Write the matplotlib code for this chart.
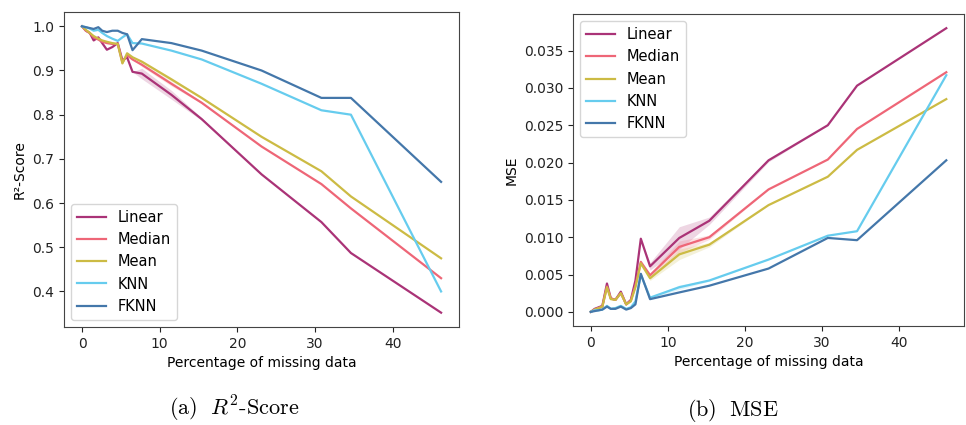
import numpy as np
import matplotlib
matplotlib.use("Agg")
import matplotlib.pyplot as plt

plt.rcParams['mathtext.fontset'] = 'cm'

# --- data ---
pct = [0, 0.5, 1.0, 1.5, 2.1, 2.6, 3.2, 3.9, 4.6, 5.2, 5.8, 6.5, 7.7,
       11.5, 15.4, 23.1, 30.8, 34.6, 46.2]

methods = ['Linear', 'Median', 'Mean', 'KNN', 'FKNN']
colors = ['#AA3377', '#EE6677', '#CCBB44', '#66CCEE', '#4477AA']

r2_linear = [1.0, 0.99, 0.985, 0.968, 0.975, 0.962, 0.947, 0.953, 0.962, 0.923,
             0.93, 0.897, 0.893, 0.845, 0.79, 0.665, 0.557, 0.487, 0.352]
r2_median = [1.0, 0.99, 0.985, 0.975, 0.97, 0.965, 0.962, 0.96, 0.96, 0.918,
             0.935, 0.925, 0.913, 0.87, 0.827, 0.728, 0.643, 0.588, 0.43]
r2_mean = [1.0, 0.992, 0.985, 0.978, 0.972, 0.968, 0.965, 0.962, 0.96, 0.916,
           0.939, 0.93, 0.92, 0.88, 0.838, 0.75, 0.672, 0.615, 0.475]
r2_knn = [1.0, 0.998, 0.995, 0.99, 0.992, 0.985, 0.978, 0.972, 0.967, 0.975,
          0.982, 0.962, 0.961, 0.945, 0.925, 0.87, 0.81, 0.80, 0.40]
r2_fknn = [1.0, 0.998, 0.996, 0.994, 0.998, 0.99, 0.987, 0.99, 0.99, 0.985,
           0.982, 0.946, 0.971, 0.962, 0.945, 0.90, 0.838, 0.838, 0.648]

mse_linear = [0, 0.0004, 0.0006, 0.0008, 0.0038, 0.0018, 0.0016, 0.0027, 0.0010, 0.0016,
              0.0042, 0.0098, 0.0061, 0.0099, 0.0122, 0.0203, 0.025, 0.0303, 0.038]
mse_median = [0, 0.0003, 0.0005, 0.0007, 0.0034, 0.0018, 0.0016, 0.0025, 0.0010, 0.0015,
              0.0035, 0.0067, 0.0049, 0.0087, 0.0100, 0.0164, 0.0204, 0.0245, 0.0321]
mse_mean = [0, 0.0003, 0.0005, 0.0007, 0.0033, 0.0017, 0.0016, 0.0025, 0.0010, 0.0014,
            0.0033, 0.0065, 0.0045, 0.0077, 0.0090, 0.0143, 0.0181, 0.0217, 0.0285]
mse_knn = [0, 0.0002, 0.0002, 0.0003, 0.0008, 0.0004, 0.0005, 0.0008, 0.0004, 0.0006,
           0.0014, 0.0050, 0.0019, 0.0033, 0.0042, 0.0070, 0.0102, 0.0108, 0.0317]
mse_fknn = [0, 0.0001, 0.0002, 0.0003, 0.0007, 0.0004, 0.0004, 0.0007, 0.0003, 0.0005,
            0.0010, 0.0051, 0.0017, 0.0026, 0.0035, 0.0058, 0.0099, 0.0096, 0.0203]

# half-widths of the confidence bands (mostly zero)
z = [0] * 12
r2_err_linear = z + [0.012, 0.01, 0.003, 0, 0, 0, 0]
r2_err_median = z + [0.004, 0.005, 0.002, 0, 0, 0, 0]
r2_err_mean = z + [0.003, 0.004, 0.002, 0, 0, 0, 0]
mse_err_linear = z + [0.0005, 0.0015, 0.0005, 0.0002, 0, 0, 0]
mse_err_median = z + [0.0003, 0.0008, 0.0003, 0, 0, 0, 0]
mse_err_mean = z + [0.0003, 0.0007, 0.0003, 0, 0, 0, 0]
mse_err_knn = z + [0.0001, 0.0003, 0.0001, 0, 0, 0, 0]

r2_all = [r2_linear, r2_median, r2_mean, r2_knn, r2_fknn]
r2_err = [r2_err_linear, r2_err_median, r2_err_mean, [0] * 19, [0] * 19]
mse_all = [mse_linear, mse_median, mse_mean, mse_knn, mse_fknn]
mse_err = [mse_err_linear, mse_err_median, mse_err_mean, mse_err_knn, [0] * 19]

# --- figure ---
fig = plt.figure(figsize=(9.66, 4.25), dpi=100)
ax1 = fig.add_axes([0.0663, 0.2306, 0.4089, 0.7412])
ax2 = fig.add_axes([0.5932, 0.2329, 0.4048, 0.7341])

x = np.array(pct)
for ax, series, errs in [(ax1, r2_all, r2_err), (ax2, mse_all, mse_err)]:
    for name, col, y, e in zip(methods, colors, series, errs):
        y = np.array(y)
        e = np.array(e)
        ax.fill_between(x, y - e, y + e, color=col, alpha=0.2, lw=0)
        ax.plot(x, y, color=col, lw=1.6, label=name)
    ax.set_xlabel('Percentage of missing data', fontsize=10)
    ax.tick_params(labelsize=10, colors='#222222')
    for sp in ax.spines.values():
        sp.set_color('#444444')

ax1.set_ylabel('R²-Score', fontsize=10)
ax2.set_ylabel('MSE', fontsize=10)
ax2.set_yticks(np.arange(0, 0.0351, 0.005))
ax2.yaxis.set_major_formatter(matplotlib.ticker.FormatStrFormatter('%.3f'))

ax1.legend(loc='lower left', fontsize=10.5)
ax2.legend(loc='upper left', fontsize=10.5)

fig.text(0.243, 0.022, r'$\mathrm{(a)}\ \ R^2\mathrm{\text{-}Score}$', ha='center', fontsize=16)
fig.text(0.759, 0.022, r'$\mathrm{(b)\ \ MSE}$', ha='center', fontsize=16)

fig.savefig('out.png', dpi=100)
